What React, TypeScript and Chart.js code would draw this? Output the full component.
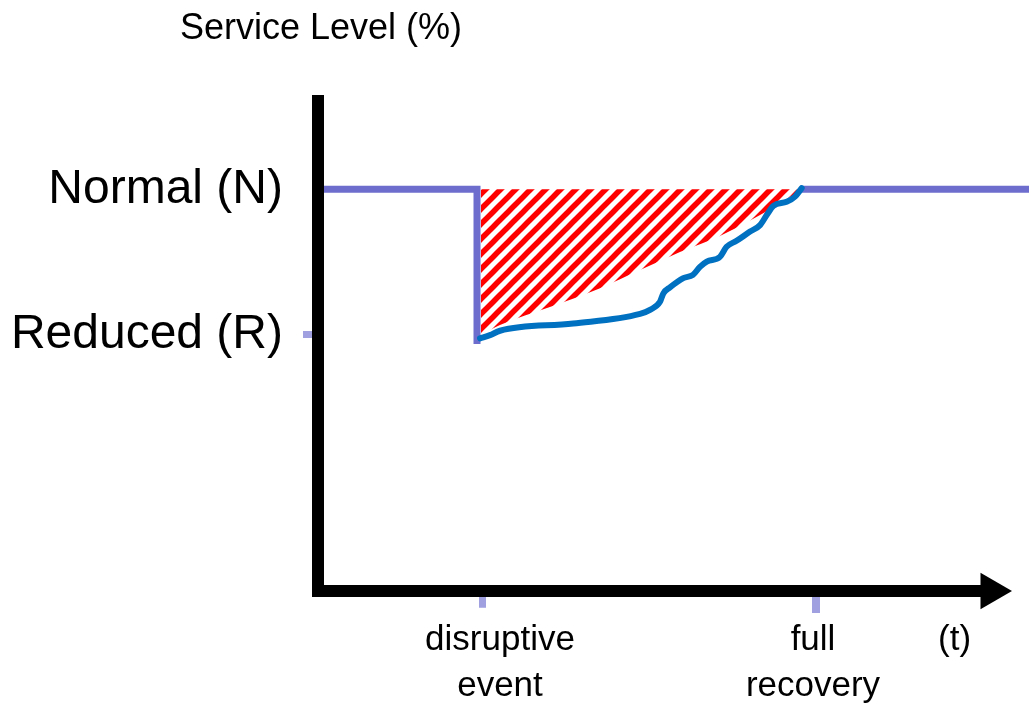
import { useEffect, useRef } from "react";
import { Chart, registerables } from "chart.js";

Chart.register(...registerables);

// ---- data ----
const TITLE = "Service Level (%)";
const NORMAL = 100;
const REDUCED = 63.8;
const Y_TICK_VALUES = [REDUCED, NORMAL];
const Y_TICK_LABELS = ["Reduced (R)", "Normal (N)"];

const X_LABEL_POSITIONS = [1.093, 2.973, 3.823];
const X_LABELS: (string | string[])[] = [["disruptive", "event"], ["full", "recovery"], "(t)"];

const EVENT_T = 0.988;
const RECOVERY_T = 2.991;
const EVENT_TICK_Y = [0, -4.2];
const RECOVERY_TICK_Y = [0, -5.5];
const ARROW_T = 4.042;

// service level before the event and after full recovery
const SERVICE_X = [0.02, 0.955, 0.955, 2.0, 2.895, 4.3];
const SERVICE_Y = [100, 100, 61.5, null, 100, 100];

// recovery curve
const RECOVERY_X = [0.973, 1.033, 1.093, 1.533, 1.934, 1.994, 2.054, 2.074, 2.114, 2.194, 2.252, 2.294, 2.335, 2.414, 2.454, 2.514, 2.595, 2.655, 2.695, 2.735, 2.815, 2.865, 2.905];
const RECOVERY_Y = [62.9, 63.7, 64.8, 66.6, 69.0, 70.0, 72.0, 74.1, 75.6, 77.9, 78.7, 80.7, 82.0, 83.2, 85.7, 87.2, 89.5, 91.1, 93.6, 95.9, 96.9, 98.2, 100.3];

// lower edge of the hatched loss area
const LOSS_X = [0.979, 1.093, 1.393, 1.694, 1.934, 2.174, 2.414, 2.655, 2.835, 2.925];
const LOSS_Y = [63.7, 66.2, 70.7, 75.4, 79.9, 84.4, 88.4, 93.6, 98.1, 100];

const FONT = "'Liberation Sans', Arial, sans-serif";

const pts = (xs: number[], ys: (number | null)[]) => xs.map((x, i) => ({ x, y: ys[i] }));

function makeHatch(): CanvasPattern | string {
  const s = 15;
  const c = document.createElement("canvas");
  c.width = s;
  c.height = s;
  const g = c.getContext("2d");
  if (!g) return "rgba(255,0,0,0.5)";
  g.strokeStyle = "#ff0000";
  g.lineWidth = 5.5;
  for (let k = -2; k <= 2; k++) {
    g.beginPath();
    g.moveTo(k * s - s, 2 * s);
    g.lineTo(k * s + 2 * s, -s);
    g.stroke();
  }
  return g.createPattern(c, "repeat") || "rgba(255,0,0,0.5)";
}

const titlePlugin = {
  id: "serviceTitle",
  afterDraw(chart: any) {
    const { ctx, chartArea } = chart;
    ctx.save();
    ctx.font = `36px ${FONT}`;
    ctx.fillStyle = "#000";
    ctx.textAlign = "center";
    ctx.textBaseline = "alphabetic";
    ctx.fillText(TITLE, chartArea.left + 3, 39);
    ctx.restore();
  },
};

export default function App() {
  const ref = useRef<HTMLCanvasElement>(null);

  useEffect(() => {
    const canvas = ref.current;
    if (!canvas) return;
    const hatch = makeHatch();
    const chart = new Chart(canvas, {
      type: "line",
      data: {
        datasets: [
          {
            label: "arrow",
            data: [{ x: ARROW_T, y: 0 }],
            showLine: false,
            pointStyle: "triangle",
            pointRotation: 90,
            pointRadius: 21,
            pointBackgroundColor: "#000",
            pointBorderWidth: 0,
            clip: false,
          } as any,
          {
            label: "Recovery",
            data: pts(RECOVERY_X, RECOVERY_Y),
            borderColor: "#0070C0",
            borderWidth: 6,
            borderCapStyle: "round",
            borderJoinStyle: "round",
            cubicInterpolationMode: "monotone",
            pointRadius: 0,
            fill: false,
            clip: false,
          } as any,
          {
            label: "Service",
            data: pts(SERVICE_X, SERVICE_Y),
            borderColor: "#6D6DCD",
            borderWidth: 7,
            tension: 0,
            pointRadius: 0,
            fill: false,
            spanGaps: false,
            clip: false,
          } as any,
          {
            label: "event tick",
            data: pts([EVENT_T, EVENT_T], EVENT_TICK_Y),
            borderColor: "#A0A0E0",
            borderWidth: 7,
            pointRadius: 0,
            fill: false,
            clip: false,
          } as any,
          {
            label: "recovery tick",
            data: pts([RECOVERY_T, RECOVERY_T], RECOVERY_TICK_Y),
            borderColor: "#A0A0E0",
            borderWidth: 8,
            pointRadius: 0,
            fill: false,
            clip: false,
          } as any,
          {
            label: "Loss",
            data: pts(LOSS_X, LOSS_Y),
            borderWidth: 0,
            borderColor: "rgba(0,0,0,0)",
            backgroundColor: hatch,
            fill: { value: NORMAL },
            cubicInterpolationMode: "monotone",
            pointRadius: 0,
          } as any,
        ],
      },
      options: {
        animation: false,
        responsive: true,
        maintainAspectRatio: false,
        events: [],
        layout: { padding: { top: 101, right: 45, bottom: 2, left: 0 } },
        plugins: {
          legend: { display: false },
          tooltip: { enabled: false },
          title: { display: false },
        },
        scales: {
          x: {
            type: "linear",
            min: 0,
            max: 4,
            grid: { display: false, drawTicks: false },
            border: { display: true, color: "#000", width: 12, z: 1 },
            afterFit: (s: any) => {
              s.height = 118;
            },
            afterBuildTicks: (s: any) => {
              s.ticks = X_LABEL_POSITIONS.map((v) => ({ value: v }));
            },
            ticks: {
              autoSkip: false,
              maxRotation: 0,
              minRotation: 0,
              padding: 26,
              color: "#000",
              font: { family: FONT, size: 35, lineHeight: 46 / 35 },
              callback: (_v: any, i: number) => X_LABELS[i],
            },
          } as any,
          y: {
            type: "linear",
            min: 0,
            max: 122,
            afterFit: (s: any) => {
              s.width = 318;
            },
            afterBuildTicks: (s: any) => {
              s.ticks = Y_TICK_VALUES.map((v) => ({ value: v }));
            },
            grid: {
              display: true,
              drawOnChartArea: false,
              drawTicks: true,
              tickLength: 15,
              tickWidth: 7,
              tickColor: (c: any) => (c.tick && c.tick.value === REDUCED ? "#A0A0E0" : "rgba(0,0,0,0)"),
            },
            border: { display: true, color: "#000", width: 12, z: 1 },
            ticks: {
              padding: 20,
              color: "#000",
              font: { family: FONT, size: 48 },
              callback: (_v: any, i: number) => Y_TICK_LABELS[i],
            },
          } as any,
        },
      },
      plugins: [titlePlugin],
    });
    return () => chart.destroy();
  }, []);

  return (
    <div style={{ position: "fixed", left: 0, top: 0, width: 1029, height: 711 }}>
      <canvas ref={ref} />
    </div>
  );
}
